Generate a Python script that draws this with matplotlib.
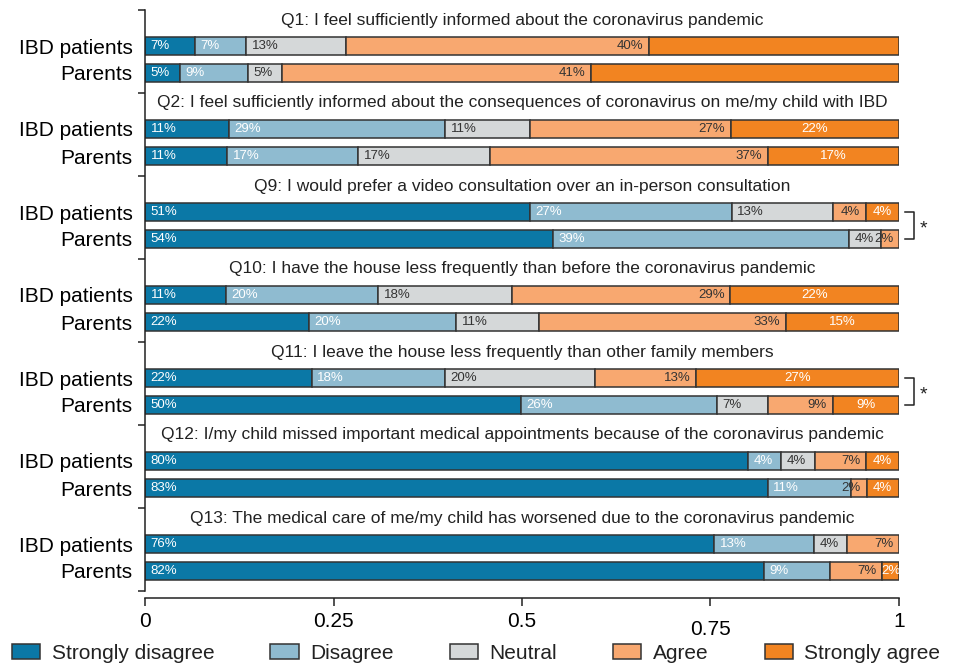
import numpy as np
import matplotlib
matplotlib.use("Agg")
from matplotlib import pyplot as plt
from matplotlib.patches import Patch
from matplotlib.transforms import ScaledTranslation

plt.rcParams['font.family'] = ['Liberation Sans', 'DejaVu Sans']
plt.rcParams['text.color'] = '#222222'

# answer categories and colours
cats = ["Strongly disagree", "Disagree", "Neutral", "Agree", "Strongly agree"]
cat_colors = ["#0B78A6", "#8FBBD0", "#D5D8D9", "#F8A870", "#F28421"]
txt_colors = ["white", "white", "#333333", "#333333", "white"]

questions = [
    "Q1: I feel sufficiently informed about the coronavirus pandemic",
    "Q2: I feel sufficiently informed about the consequences of coronavirus on me/my child with IBD",
    "Q9: I would prefer a video consultation over an in-person consultation",
    "Q10: I have the house less frequently than before the coronavirus pandemic",
    "Q11: I leave the house less frequently than other family members",
    "Q12: I/my child missed important medical appointments because of the coronavirus pandemic",
    "Q13: The medical care of me/my child has worsened due to the coronavirus pandemic",
]
groups = ["IBD patients", "Parents"]

# percent per category (SD, D, N, A, SA)
ibd = [
    [6.6, 6.8, 13.3, 40.1, 33.2],
    [11.1, 28.7, 11.2, 26.7, 22.3],
    [51.0, 26.8, 13.4, 4.4, 4.4],
    [10.7, 20.2, 17.8, 28.9, 22.4],
    [22.1, 17.7, 19.9, 13.4, 26.9],
    [80.0, 4.4, 4.4, 6.8, 4.4],
    [75.5, 13.2, 4.4, 6.9, 0.0],
]
parents = [
    [4.6, 9.0, 4.6, 41.0, 40.8],
    [10.9, 17.4, 17.4, 36.9, 17.4],
    [54.1, 39.3, 4.2, 2.4, 0.0],
    [21.7, 19.6, 11.0, 32.7, 15.0],
    [49.9, 25.9, 6.8, 8.6, 8.8],
    [82.6, 11.0, 0.0, 2.1, 4.3],
    [82.1, 8.8, 0.0, 6.9, 2.2],
]
# segments printed without a value in the original
no_label = {(0, 0, 4), (0, 1, 4)}
# questions with a significant group difference
signif = [2, 4]

# layout (y in pixel-like units, inverted)
grp_h = 83
title_off = 10
bar_off = [36, 63]
bar_h = 18

fig = plt.figure(figsize=(9.62, 6.66), dpi=100)
ax = fig.add_axes([145 / 962, 75 / 666, 754 / 962, 581 / 666])

for qi in range(len(questions)):
    top = qi * grp_h
    ax.text(0.5, top + title_off, questions[qi], ha='center', va='center',
            fontsize=12.5)
    for gi, data in enumerate([ibd, parents]):
        yc = top + bar_off[gi]
        vals = np.array(data[qi]) / 100
        left = 0
        for ci, v in enumerate(vals):
            if v <= 0:
                continue
            ax.barh(yc, v, left=left, height=bar_h, color=cat_colors[ci],
                    edgecolor='#333333', linewidth=1.1)
            if (qi, gi, ci) not in no_label:
                lab = f"{data[qi][ci]:.0f}%"
                if ci == 3:
                    ax.annotate(lab, (left + v, yc), xytext=(-4, 0), textcoords='offset points',
                                ha='right', va='center', fontsize=9.5, color=txt_colors[ci])
                elif ci == 4:
                    ax.annotate(lab, (left + v / 2, yc), ha='center', va='center',
                                fontsize=9.5, color=txt_colors[ci])
                else:
                    ax.annotate(lab, (left, yc), xytext=(4, 0), textcoords='offset points',
                                ha='left', va='center', fontsize=9.5, color=txt_colors[ci])
            left += v

for qi in signif:
    y1 = qi * grp_h + bar_off[0]
    y2 = qi * grp_h + bar_off[1]
    ax.plot([1.008, 1.02, 1.02, 1.008], [y1, y1, y2, y2], color='#222222',
            lw=1.1, clip_on=False)
    ax.text(1.027, (y1 + y2) / 2 + 3, "*", ha='left', va='center', fontsize=14)

ax.set_xlim(0, 1)
ax.set_ylim(len(questions) * grp_h, 0)

ax.spines['top'].set_visible(False)
ax.spines['right'].set_visible(False)
ax.spines['bottom'].set_position(('outward', 5))
for s in ['left', 'bottom']:
    ax.spines[s].set_color('#222222')
    ax.spines[s].set_linewidth(1.1)

ax.set_yticks(np.arange(len(questions) + 1) * grp_h)
ax.set_yticklabels([])
centers = [qi * grp_h + off for qi in range(len(questions)) for off in bar_off]
ax.set_yticks(centers, minor=True)
ax.set_yticklabels(groups * len(questions), minor=True, fontsize=15)
ax.tick_params(axis='y', which='major', direction='out', length=5, width=1.1, color='#222222')
ax.tick_params(axis='y', which='minor', length=0, pad=9)

ax.set_xticks([0, 0.25, 0.5, 0.75, 1])
ax.set_xticklabels(["0", "0.25", "0.5", "0.75", "1"], fontsize=15)
ax.tick_params(axis='x', direction='out', length=6, width=1.1, color='#222222', pad=4)
lbl = ax.get_xticklabels()[3]
lbl.set_transform(lbl.get_transform() + ScaledTranslation(0, -6 / 72, fig.dpi_scale_trans))

handles = [Patch(facecolor=c, edgecolor='#333333', linewidth=1.1) for c in cat_colors]
fig.legend(handles, cats, loc='center left', bbox_to_anchor=(12 / 962, 0.019),
           ncol=5, frameon=False, fontsize=15, handlelength=1.35, handleheight=0.75,
           handletextpad=0.55, columnspacing=2.7, borderpad=0, borderaxespad=0)

fig.savefig("out.png", dpi=100)
